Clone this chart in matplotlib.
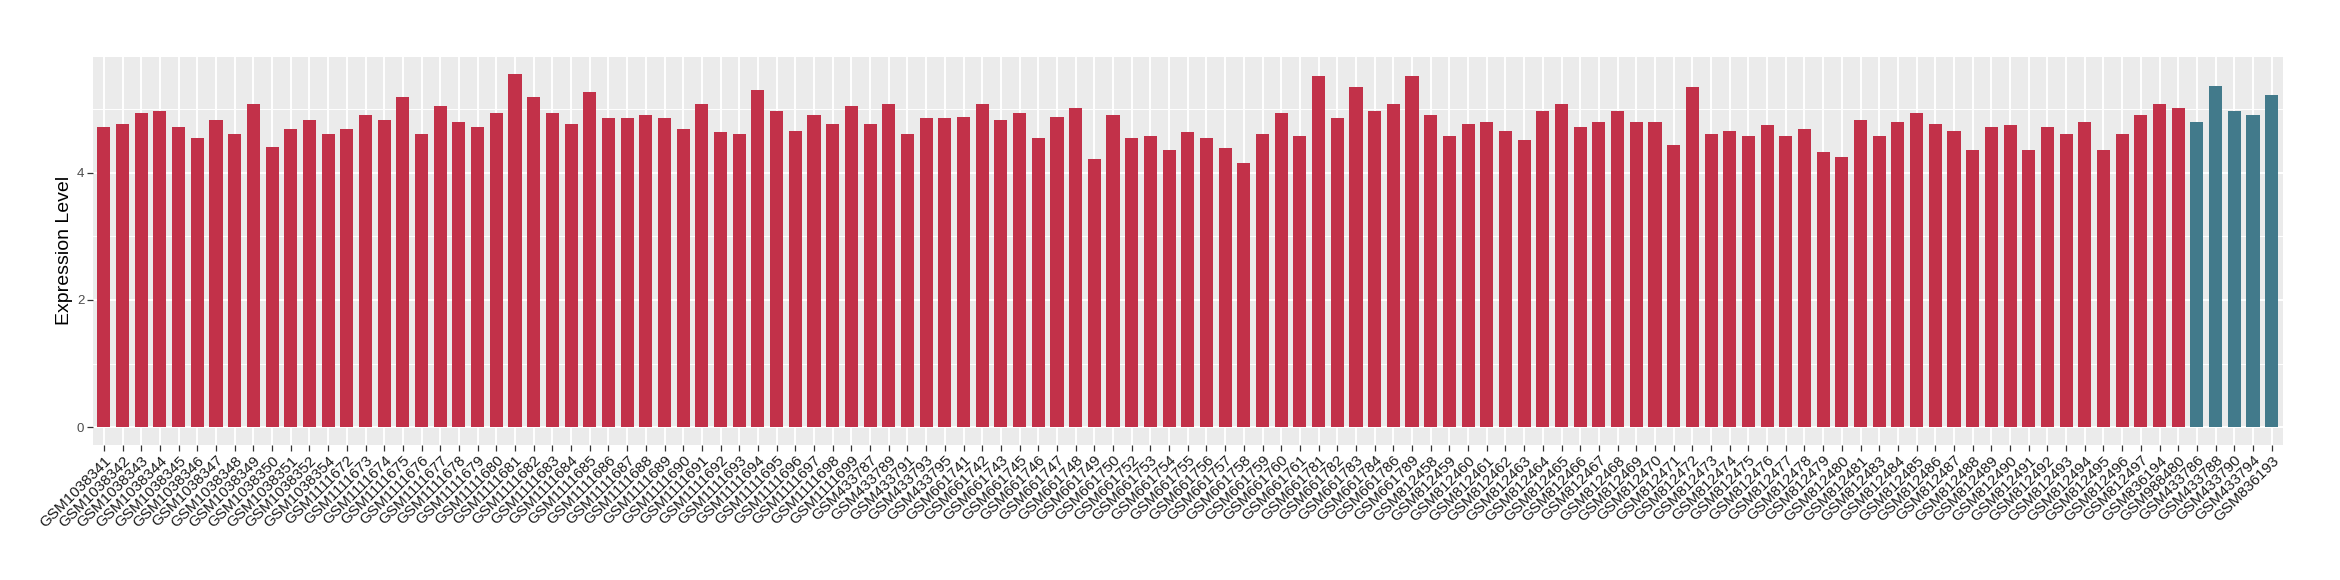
import matplotlib
matplotlib.use("Agg")
import matplotlib.pyplot as plt
import numpy as np

plt.rcParams['font.family'] = ['Liberation Sans', 'DejaVu Sans']

samples = (
    ["GSM1038341", "GSM1038342", "GSM1038343", "GSM1038344", "GSM1038345", "GSM1038346",
     "GSM1038347", "GSM1038348", "GSM1038349", "GSM1038350", "GSM1038351", "GSM1038352",
     "GSM1038354"]
    + ["GSM11116%02d" % i for i in range(72, 100)]
    + ["GSM433787", "GSM433789", "GSM433791", "GSM433793", "GSM433795"]
    + ["GSM661741", "GSM661742", "GSM661743", "GSM661745", "GSM661746", "GSM661747",
       "GSM661748", "GSM661749", "GSM661750", "GSM661752", "GSM661753", "GSM661754",
       "GSM661755", "GSM661756", "GSM661757", "GSM661758", "GSM661759", "GSM661760",
       "GSM661761", "GSM661781", "GSM661782", "GSM661783", "GSM661784", "GSM661786",
       "GSM661789"]
    + ["GSM812%d" % i for i in range(458, 482)]
    + ["GSM812%d" % i for i in range(483, 498)]
    + ["GSM836194", "GSM988480"]
    + ["GSM433786", "GSM433788", "GSM433790", "GSM433794", "GSM836193"]
)

values = [
    4.71, 4.755, 4.93, 4.97, 4.71, 4.54, 4.83, 4.60, 5.08, 4.40, 4.69, 4.83, 4.60,
    4.69, 4.90, 4.82, 5.19, 4.61, 5.05, 4.80, 4.72, 4.93, 5.54, 5.18, 4.93, 4.77,
    5.26, 4.85, 4.86, 4.90, 4.85, 4.69, 5.07, 4.63, 4.61, 5.30, 4.96, 4.65, 4.91,
    4.755, 5.04, 4.77, 5.08, 4.60, 4.86, 4.85, 4.88, 5.08, 4.82, 4.94, 4.55, 4.88,
    5.02, 4.22, 4.91, 4.55, 4.57, 4.35, 4.63, 4.54, 4.38, 4.15, 4.61, 4.93, 4.57,
    5.52, 4.85, 5.35, 4.97, 5.08, 5.52, 4.90, 4.58, 4.755, 4.79, 4.65, 4.51, 4.96,
    5.08, 4.71, 4.79, 4.96, 4.80, 4.80, 4.44, 5.35, 4.61, 4.66, 4.57, 4.74, 4.57,
    4.68, 4.32, 4.24, 4.83, 4.58, 4.79, 4.94, 4.77, 4.65, 4.36, 4.71, 4.74, 4.35,
    4.71, 4.61, 4.80, 4.36, 4.61, 4.90, 5.07, 5.01,
    4.79, 5.36, 4.97, 4.90, 5.21,
]

groups = ["red"] * 112 + ["teal"] * 5
group_colors = {"red": "#C23149", "teal": "#427A8B"}

fig = plt.figure(figsize=(23.4, 5.8), dpi=100)
ax = fig.add_axes([0.0396, 0.233, 0.9360, 0.669])
ax.set_facecolor("#EBEBEB")

x = np.arange(len(samples))
ax.bar(x, values, width=0.7, color=[group_colors[g] for g in groups], zorder=3)

ax.set_xlim(-0.6, len(samples) - 1 + 0.6)
ymax = max(values)
ax.set_ylim(-0.05 * ymax, ymax * 1.05)

ax.set_yticks([0, 2, 4])
ax.set_yticks([1, 3, 5], minor=True)
ax.set_xticks(x)
ax.set_xticklabels(samples, rotation=45, ha="right", va="top",
                   rotation_mode="anchor", fontsize=11, color="#1A1A1A")
ax.tick_params(axis="y", which="major", labelsize=9.5, labelcolor="#4D4D4D",
               color="#333333", length=4, width=0.9, pad=2)
ax.tick_params(axis="y", which="minor", length=0)
ax.tick_params(axis="x", color="#333333", length=4, width=0.9, pad=2)

ax.grid(True, which="major", color="white", linewidth=1.4, zorder=0)
ax.grid(True, which="minor", axis="y", color="white", linewidth=0.7, zorder=0)
ax.set_axisbelow(True)
for s in ax.spines.values():
    s.set_visible(False)

ax.set_ylabel("Expression Level", fontsize=14, color="black", labelpad=3)

fig.savefig("out.png", dpi=100, facecolor="white")
